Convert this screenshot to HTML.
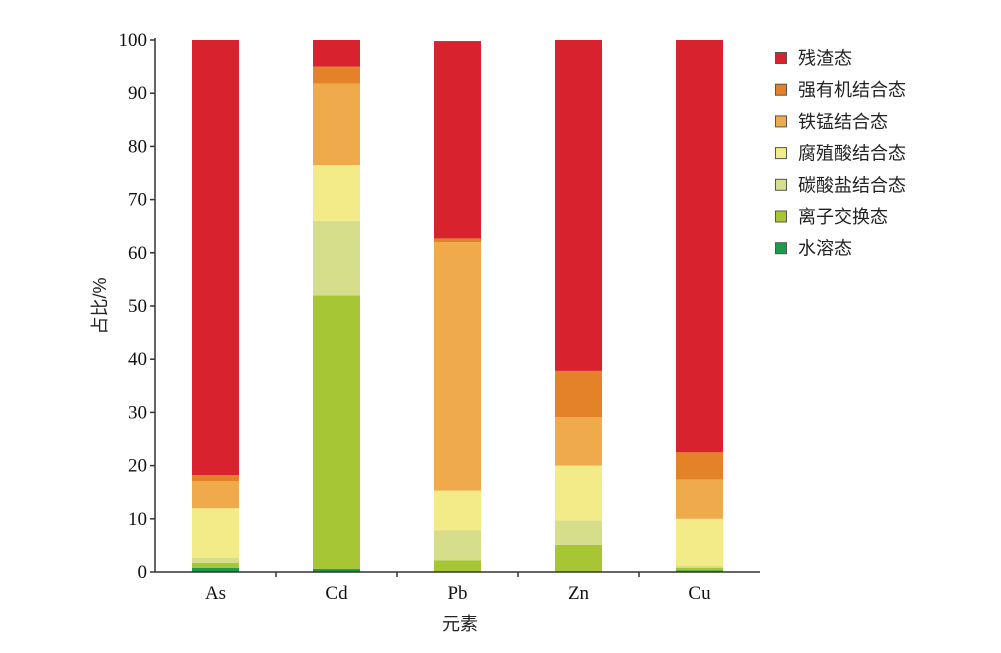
<!DOCTYPE html>
<html><head><meta charset="utf-8">
<style>
html,body{margin:0;padding:0;background:#fff;}
svg{display:block;}
.tk{font-family:"Liberation Serif","Noto Serif CJK SC",serif;font-size:19px;fill:#111;}
.cj{font-family:"Liberation Sans","Noto Sans CJK SC",sans-serif;font-size:18px;fill:#222;}
</style></head>
<body>
<svg id="chart" width="1001" height="653" viewBox="0 0 1001 653"></svg>
<script>
const categories = ["As","Cd","Pb","Zn","Cu"];
const seriesNames = ["水溶态","离子交换态","碳酸盐结合态","腐殖酸结合态","铁锰结合态","强有机结合态","残渣态"];
const water    = [0.8, 0.6, 0.0, 0.0, 0.3];
const ionEx    = [0.9, 51.4, 2.2, 5.1, 0.5];
const carbonate= [1.0, 14.0, 5.6, 4.6, 0.4];
const humic    = [9.3, 10.5, 7.5, 10.3, 8.8];
const feMn     = [5.1, 15.3, 46.7, 9.1, 7.4];
const strongOrg= [1.1, 3.2, 0.7, 8.7, 5.1];
const residual = [81.8, 5.0, 37.1, 62.2, 77.5];
const yTicks = [0,10,20,30,40,50,60,70,80,90,100];
const colors = ["#1f9a4a","#a6c633","#d6de8b","#f3eb87","#eeaa4b","#e4822a","#d8232f"];
const series = [water, ionEx, carbonate, humic, feMn, strongOrg, residual];

const NS="http://www.w3.org/2000/svg";
const svg=document.getElementById('chart');
const X0=155, X1=760, Y0=572, Y100=40;
const band=(X1-X0)/categories.length, barW=47;
const y=v=>Y0-(v/100)*(Y0-Y100);
const xc=i=>X0+band*(i+0.5);
function mk(tag,attrs,parent){const e=document.createElementNS(NS,tag);for(const k in attrs)e.setAttribute(k,attrs[k]);(parent||svg).appendChild(e);return e;}

// bars
const barsG=mk('g',{});


categories.forEach((c,i)=>{
  let cum=0;
  series.forEach((s,k)=>{
    const v=s[i]; if(v<=0){return;}
    const r=mk('rect',{x:xc(i)-barW/2,y:y(cum+v),width:barW,height:y(cum)-y(cum+v),fill:colors[k]},barsG);
    
    
    cum+=v;
  });
});

// axes
const ax=mk('g',{stroke:'#333','stroke-width':1.5});


mk('line',{x1:X0,y1:Y100-2,x2:X0,y2:Y0},ax);
mk('line',{x1:X0,y1:Y0,x2:X1,y2:Y0},ax);
yTicks.forEach(t=>{
  mk('line',{x1:X0-5,y1:y(t),x2:X0,y2:y(t)},ax);
  const tx=mk('text',{x:X0-8,y:y(t)+6,'text-anchor':'end',class:'tk'});
  tx.textContent=t;
  
  
});
for(let i=1;i<categories.length;i++){ mk('line',{x1:X0+band*i,y1:Y0,x2:X0+band*i,y2:Y0+5},ax); }
categories.forEach((c,i)=>{
  const tx=mk('text',{x:xc(i),y:Y0+27,'text-anchor':'middle',class:'tk'});
  tx.textContent=c;
  
  
});
const xt=mk('text',{x:460,y:630,'text-anchor':'middle',class:'cj'});
xt.textContent='元素';


const yt=mk('text',{x:0,y:0,'text-anchor':'middle',class:'cj',transform:'translate(106,306) rotate(-90)'});
yt.textContent='占比/%';



// legend
const lg=mk('g',{});


for(let j=0;j<7;j++){
  const k=6-j, cy=58+j*31.7;
  const e=mk('g',{},lg);
  
  
  mk('rect',{x:775.5,y:cy-5.5,width:11,height:11,fill:colors[k],stroke:'#555','stroke-width':1},e);
  const t=mk('text',{x:798,y:cy+6.5,class:'cj'},e);
  t.textContent=seriesNames[k];
}
</script>
</body></html>
